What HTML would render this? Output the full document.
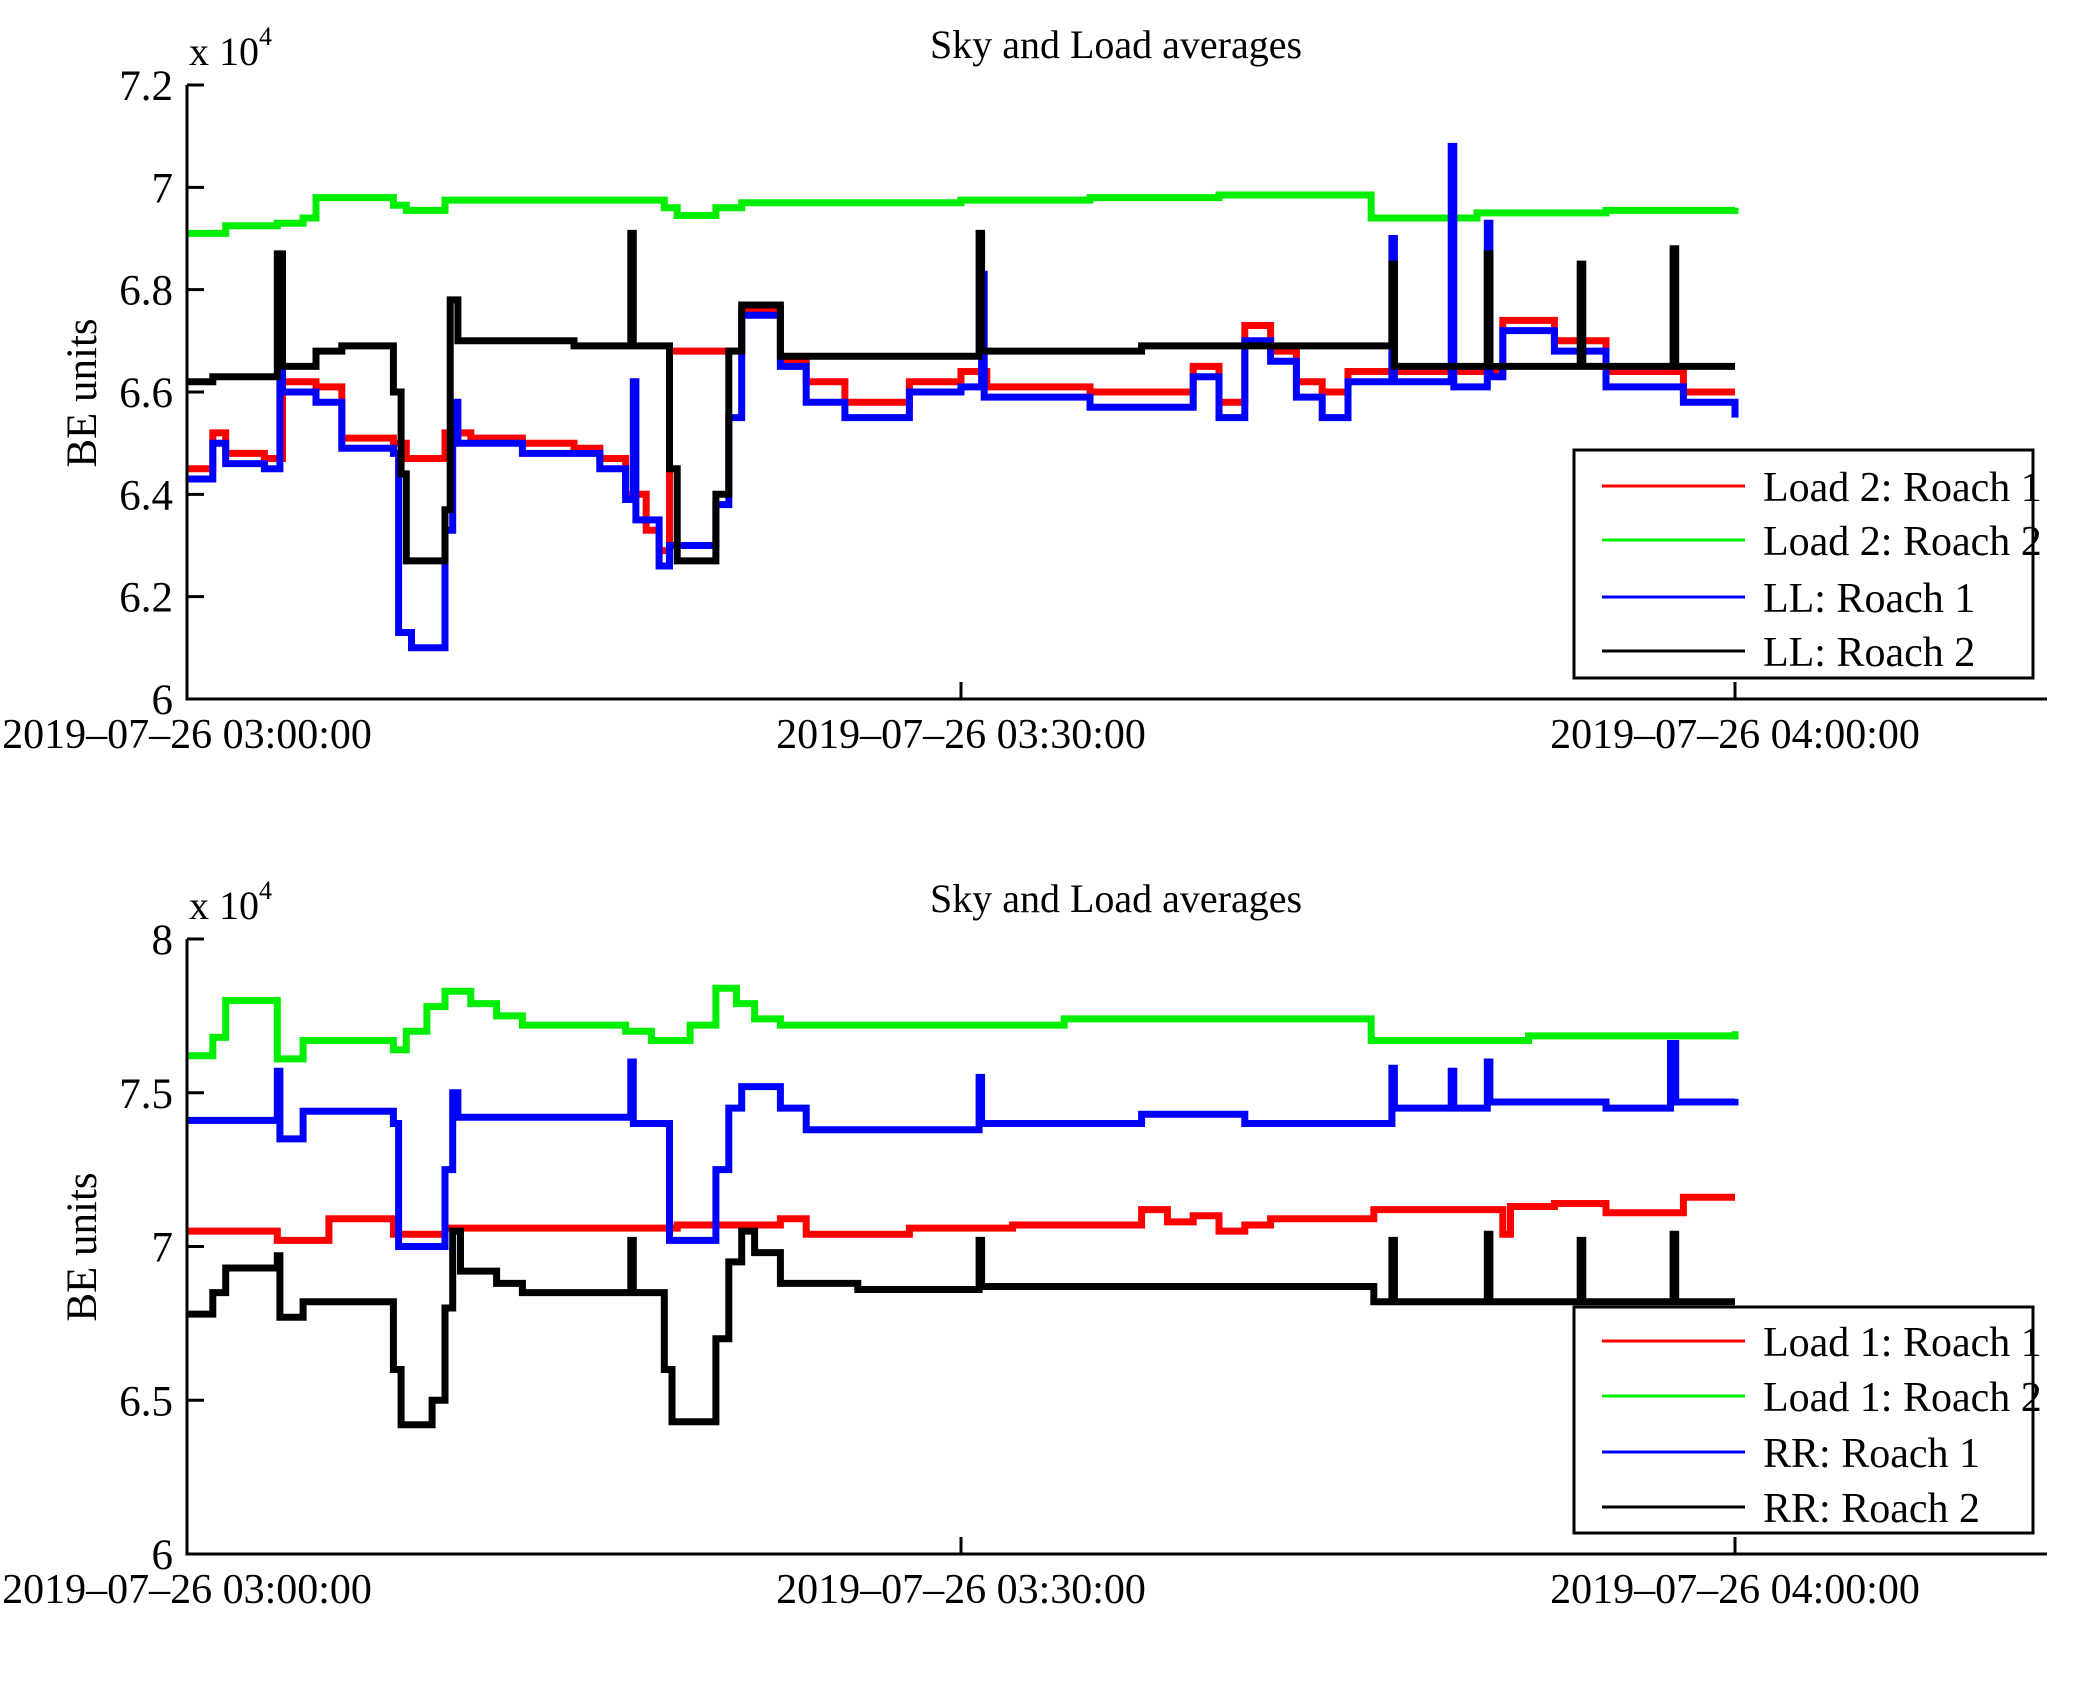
<!DOCTYPE html>
<html><head><meta charset="utf-8"><style>
html,body{margin:0;padding:0;background:#fff;}
svg{display:block;font-family:"Liberation Serif",serif;}
</style></head><body>
<svg id="fig" width="2075" height="1683" viewBox="0 0 2075 1683" xmlns="http://www.w3.org/2000/svg"></svg>
<script>
// ---- data (minutes after 03:00, value in units of 1e4) ----
const xTickLabels = ["2019\u201307\u201326 03:00:00","2019\u201307\u201326 03:30:00","2019\u201307\u201326 04:00:00"];
const xTickMinutes = [0,30,60];
const topYTicks = [6,6.2,6.4,6.6,6.8,7,7.2];
const topYTickLabels = ["6","6.2","6.4","6.6","6.8","7","7.2"];
const botYTicks = [6,6.5,7,7.5,8];
const botYTickLabels = ["6","6.5","7","7.5","8"];
const topLegend = ["Load 2: Roach 1","Load 2: Roach 2","LL: Roach 1","LL: Roach 2"];
const botLegend = ["Load 1: Roach 1","Load 1: Roach 2","RR: Roach 1","RR: Roach 2"];

const load2r1 = [[0,6.45],[1,6.52],[1.5,6.48],[3,6.47],[3.7,6.62],[5,6.61],[6,6.51],[8,6.50],[8.5,6.47],[10,6.52],[11,6.51],[13,6.50],[15,6.49],[16,6.47],[17,6.40],[17.8,6.33],[18.3,6.29],[18.7,6.68],[21.5,6.76],[23,6.66],[24,6.62],[25.5,6.58],[28,6.62],[30,6.64],[31,6.61],[35,6.60],[39,6.65],[40,6.58],[41,6.73],[42,6.68],[43,6.62],[44,6.60],[45,6.64],[51,6.74],[53,6.70],[55,6.64],[58,6.60],[60,6.60]];
const load2r2 = [[0,6.91],[1.5,6.925],[3.5,6.93],[4.5,6.94],[5,6.98],[8,6.965],[8.5,6.955],[10,6.975],[18.5,6.96],[19,6.945],[20.5,6.96],[21.5,6.97],[30,6.975],[35,6.98],[40,6.985],[45.9,6.94],[50,6.95],[55,6.955],[60,6.96]];
const llr1 = [[0,6.43],[1,6.50],[1.5,6.46],[3,6.45],[3.6,6.78],[3.7,6.60],[5,6.58],[6,6.49],[8,6.48],[8.2,6.13],[8.7,6.10],[10,6.33],[10.3,6.58],[10.5,6.50],[13,6.48],[16,6.45],[17,6.39],[17.3,6.62],[17.4,6.35],[18.3,6.26],[18.7,6.30],[20.5,6.38],[21,6.55],[21.5,6.75],[23,6.65],[24,6.58],[25.5,6.55],[28,6.60],[30,6.61],[30.8,6.83],[30.9,6.59],[35,6.57],[39,6.63],[40,6.55],[41,6.70],[42,6.66],[43,6.59],[44,6.55],[45,6.62],[46.7,6.90],[46.8,6.62],[49,7.08],[49.1,6.61],[50.4,6.93],[50.5,6.63],[51,6.72],[53,6.68],[55,6.61],[58,6.58],[60,6.55]];
const llr2 = [[0,6.62],[1,6.63],[3.5,6.87],[3.7,6.65],[5,6.68],[6,6.69],[8,6.60],[8.3,6.44],[8.5,6.27],[10,6.37],[10.2,6.78],[10.5,6.70],[15,6.69],[17.2,6.91],[17.3,6.69],[18.7,6.45],[19,6.27],[20.5,6.40],[21,6.68],[21.5,6.77],[23,6.67],[30.7,6.91],[30.8,6.68],[37,6.69],[46.7,6.85],[46.8,6.65],[50.4,6.87],[50.5,6.65],[54,6.85],[54.1,6.65],[57.6,6.88],[57.7,6.65],[60,6.65]];

const load1r1 = [[0,7.05],[3.5,7.02],[5.5,7.09],[8,7.04],[10,7.06],[19,7.07],[23,7.09],[24,7.04],[28,7.06],[32,7.07],[37,7.12],[38,7.08],[39,7.10],[40,7.05],[41,7.07],[42,7.09],[46,7.12],[51,7.04],[51.3,7.13],[53,7.14],[55,7.11],[58,7.16],[60,7.16]];
const load1r2 = [[0,7.62],[1,7.68],[1.5,7.80],[3.5,7.61],[4.5,7.67],[8,7.64],[8.5,7.70],[9.3,7.78],[10,7.83],[11,7.79],[12,7.75],[13,7.72],[17,7.70],[18,7.67],[19.5,7.72],[20.5,7.84],[21.3,7.79],[22,7.74],[23,7.72],[34,7.74],[45.9,7.67],[52,7.685],[60,7.70]];
const rrr1 = [[0,7.41],[3.5,7.57],[3.6,7.35],[4.5,7.44],[8,7.40],[8.2,7.00],[10,7.25],[10.3,7.50],[10.5,7.42],[17.2,7.60],[17.3,7.40],[18.7,7.02],[20.5,7.25],[21,7.45],[21.5,7.52],[23,7.45],[24,7.38],[30.7,7.55],[30.8,7.40],[37,7.43],[41,7.40],[46.7,7.58],[46.8,7.45],[49,7.57],[49.1,7.45],[50.4,7.60],[50.5,7.47],[55,7.45],[57.5,7.66],[57.7,7.47],[60,7.48]];
const rrr2 = [[0,6.78],[1,6.85],[1.5,6.93],[3.5,6.97],[3.6,6.77],[4.5,6.82],[8,6.60],[8.3,6.42],[9.5,6.50],[10,6.80],[10.3,7.05],[10.6,6.92],[12,6.88],[13,6.85],[17.2,7.02],[17.3,6.85],[18.5,6.60],[18.8,6.43],[20.5,6.70],[21,6.95],[21.5,7.05],[22,6.98],[23,6.88],[26,6.86],[30.7,7.02],[30.8,6.87],[46,6.82],[46.7,7.02],[46.8,6.82],[50.4,7.04],[50.5,6.82],[54,7.02],[54.1,6.82],[57.6,7.04],[57.7,6.82],[60,6.82]];

const colors = ["#ff0000","#00ee00","#0000ff","#000000"];
const NS = "http://www.w3.org/2000/svg";
const svg = document.getElementById('fig');
function mk(tag, attrs, parent){const e=document.createElementNS(NS,tag);for(const k in attrs)e.setAttribute(k,attrs[k]);(parent||svg).appendChild(e);return e;}

const X0=187, XPM=(1735-187)/60, XR=2047;
function xs(t){return X0+t*XPM;}

function panel(cfg){
  const g=mk('g',{});
  
  
  const ys=v=>cfg.yTop+(cfg.vMax-v)*cfg.ppu;
  const yb=ys(cfg.vMin);
  cfg.series.forEach((s,i)=>{
    let d='';
    s.forEach((p,j)=>{
      const x=xs(p[0]).toFixed(1), y=ys(p[1]).toFixed(1);
      if(j===0) d+='M'+x+' '+y; else d+='H'+x+'V'+y;
    });
    const pth=mk('path',{d:d,fill:'none',stroke:colors[i],'stroke-width':7,'stroke-linejoin':'miter'},g);
    
    
  });
  const ax=mk('path',{d:`M${X0} ${cfg.yTop}V${yb}H${XR}`,fill:'none',stroke:'#000','stroke-width':3},g);
  
  
  cfg.yTicks.forEach((v,i)=>{
    const y=ys(v);
    mk('line',{x1:X0,x2:X0+17,y1:y,y2:y,stroke:'#000','stroke-width':3},g);
    const t=mk('text',{x:X0-14,y:y+15,'text-anchor':'end','font-size':43},g);
    t.textContent=cfg.yTickLabels[i];
    
    
  });
  xTickMinutes.forEach((m,i)=>{
    const x=xs(m);
    mk('line',{x1:x,x2:x,y1:yb,y2:yb-17,stroke:'#000','stroke-width':3},g);
    const t=mk('text',{x:x,y:yb+49,'text-anchor':'middle','font-size':42},g);
    t.textContent=xTickLabels[i];
    
    
  });
  const ti=mk('text',{x:1116,y:cfg.yTop-27,'text-anchor':'middle','font-size':40},g);
  ti.textContent='Sky and Load averages';
  
  
  const ex=mk('text',{x:189,y:cfg.yTop-20,'font-size':40},g);
  ex.innerHTML='x 10<tspan dy="-20" font-size="26">4</tspan>';
  
  
  const yl=mk('text',{x:0,y:0,'text-anchor':'middle','font-size':43,transform:`translate(96 ${cfg.ylabelY}) rotate(-90)`},g);
  yl.textContent='BE units';
  
  
  const lg=mk('g',{},g);
  
  
  mk('rect',{x:1574,y:cfg.legTop,width:459,height:cfg.legH,fill:'#fff',stroke:'#000','stroke-width':3},lg);
  cfg.legend.forEach((lab,i)=>{
    const y=cfg.legRows[i];
    mk('line',{x1:1602,x2:1745,y1:y,y2:y,stroke:colors[i],'stroke-width':3},lg);
    const t=mk('text',{x:1763,y:y+15,'font-size':42},lg);
    t.textContent=lab;
    
    
  });
}

panel({name:'top-chart',yTop:85,vMax:7.2,vMin:6,ppu:(699-85)/1.2,series:[load2r1,load2r2,llr1,llr2],
  yTicks:topYTicks,yTickLabels:topYTickLabels,legend:topLegend,legTop:450,legH:228,legRows:[486,540,597,651],ylabelY:393});
panel({name:'bottom-chart',yTop:939,vMax:8,vMin:6,ppu:(1554-939)/2,series:[load1r1,load1r2,rrr1,rrr2],
  yTicks:botYTicks,yTickLabels:botYTickLabels,legend:botLegend,legTop:1307,legH:226,legRows:[1341,1396,1452,1507],ylabelY:1247});
</script>
</body></html>
